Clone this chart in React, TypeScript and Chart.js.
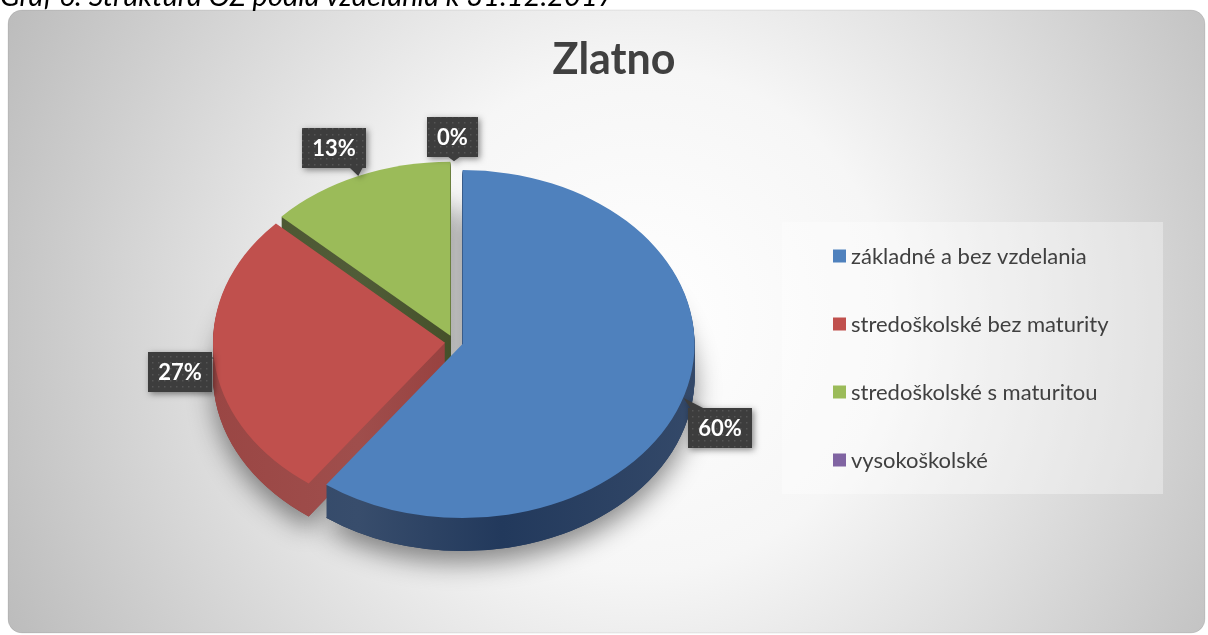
import { useEffect, useRef } from 'react';
import { Chart, registerables } from 'chart.js';

Chart.register(...registerables);

// ---- data ----
const captionText = 'Graf 6: Štruktúra OZ podľa vzdelania k 31.12.2017';
const chartTitle = 'Zlatno';
const categories = [
  'základné a bez vzdelania',
  'stredoškolské bez maturity',
  'stredoškolské s maturitou',
  'vysokoškolské',
];
const shares = [60, 27, 13, 0];

// ---- styles ----
const sliceColors = ['#4F81BD', '#C0504D', '#9BBB59', '#8064A2'];
const sideColors = ['#22395c', '#943a38', '#3e4a22', '#4b3a60'];
const FONT = 'Lato, "Open Sans", "DejaVu Sans", sans-serif';

const W = 1208;
const H = 635;

function shade(hex: string, f: number) {
  const n = parseInt(hex.slice(1), 16);
  const ch = [(n >> 16) & 255, (n >> 8) & 255, n & 255].map((c) =>
    Math.round(f >= 0 ? c + (255 - c) * f : c * (1 + f))
  );
  return `rgb(${ch[0]},${ch[1]},${ch[2]})`;
}

const backgroundPlugin = {
  id: 'bgPanel',
  beforeDraw(chart: any) {
    const ctx = chart.ctx as CanvasRenderingContext2D;
    ctx.save();
    const g = ctx.createRadialGradient(640, 320, 0, 640, 320, 720);
    g.addColorStop(0, '#ffffff');
    g.addColorStop(0.35, '#f6f6f6');
    g.addColorStop(1, '#bababa');
    ctx.beginPath();
    (ctx as any).roundRect(8, 10, 1197, 623, 14);
    ctx.fillStyle = g;
    ctx.fill();
    ctx.strokeStyle = 'rgba(0,0,0,0.08)';
    ctx.lineWidth = 1;
    ctx.stroke();
    ctx.restore();
  },
};

function arcGeom(chart: any) {
  const meta = chart.getDatasetMeta(0);
  return (meta.data as any[]).map((a) =>
    a.getProps(['x', 'y', 'startAngle', 'endAngle', 'outerRadius'], true)
  );
}

const pie3dPlugin = {
  id: 'pie3d',
  beforeDatasetsDraw(chart: any, _args: any, opts: any) {
    const ctx = chart.ctx as CanvasRenderingContext2D;
    const k = opts.tilt;
    const depth = opts.depth;
    const ex = opts.explode;
    const geom = arcGeom(chart);
    const meta = chart.getDatasetMeta(0);
    const path = (g: any, dy: number) => {
      const mid = (g.startAngle + g.endAngle) / 2;
      ctx.save();
      ctx.translate(g.x, g.y + dy);
      ctx.scale(1, k);
      ctx.translate(Math.cos(mid) * ex, Math.sin(mid) * ex);
      ctx.beginPath();
      ctx.moveTo(0, 0);
      ctx.arc(0, 0, g.outerRadius, g.startAngle, g.endAngle);
      ctx.closePath();
      ctx.restore();
    };
    const visible = (g: any) => g.endAngle - g.startAngle > 1e-6;
    const sideFill = (g: any, i: number) => {
      const base = opts.sideColors[i];
      const x0 = g.x - g.outerRadius - ex;
      const x1 = g.x + g.outerRadius + ex;
      const lg = ctx.createLinearGradient(x0, 0, x1, 0);
      lg.addColorStop(0, shade(base, 0.06));
      lg.addColorStop(0.3, shade(base, 0.1));
      lg.addColorStop(0.6, base);
      lg.addColorStop(1, shade(base, 0.08));
      return lg;
    };

    // soft shadow under the pie
    ctx.save();
    ctx.shadowColor = 'rgba(0,0,0,0.45)';
    ctx.shadowBlur = 26;
    ctx.shadowOffsetY = 12;
    geom.forEach((g: any, i: number) => {
      if (!visible(g)) return;
      path(g, depth);
      ctx.fillStyle = opts.sideColors[i];
      ctx.fill();
    });
    ctx.restore();

    // side walls
    const fills = geom.map((g: any, i: number) => sideFill(g, i));
    for (let d = depth; d >= 1; d--) {
      geom.forEach((g: any, i: number) => {
        if (!visible(g)) return;
        path(g, d);
        ctx.fillStyle = fills[i];
        ctx.fill();
      });
    }
    // top faces
    geom.forEach((g: any, i: number) => {
      if (!visible(g)) return;
      path(g, 0);
      ctx.fillStyle = meta.data[i].options.backgroundColor;
      ctx.fill();
    });
    return false;
  },
};

let dotPattern: CanvasPattern | null = null;
function getPattern(ctx: CanvasRenderingContext2D) {
  if (dotPattern) return dotPattern;
  const c = document.createElement('canvas');
  c.width = 6;
  c.height = 6;
  const p = c.getContext('2d')!;
  p.fillStyle = '#3d3d3d';
  p.fillRect(0, 0, 6, 6);
  p.fillStyle = '#555555';
  p.fillRect(2, 2, 1.5, 1.5);
  dotPattern = ctx.createPattern(c, 'repeat');
  return dotPattern;
}

const labelPlugin = {
  id: 'calloutLabels',
  afterDraw(chart: any, _args: any, opts: any) {
    const ctx = chart.ctx as CanvasRenderingContext2D;
    const geom = arcGeom(chart);
    const data = chart.data.datasets[0].data as number[];
    const total = data.reduce((s, v) => s + v, 0);
    const k = opts.tilt;
    const ex = opts.explode;
    ctx.save();
    ctx.font = `bold 22px ${FONT}`;
    geom.forEach((g: any, i: number) => {
      const mid = (g.startAngle + g.endAngle) / 2;
      const r = g.outerRadius + ex;
      const ax = g.x + Math.cos(mid) * r;
      const ay = g.y + Math.sin(mid) * r * k;
      const text = Math.round((data[i] / total) * 100) + '%';
      const tw = ctx.measureText(text).width;
      const bw = Math.round(tw + 20);
      const bh = 40;
      const [sx, sy] = opts.shifts[i];
      const bx = Math.round(ax + sx - bw / 2);
      const by = Math.round(ay + sy - bh / 2);
      // callout pointer base
      let p1: number[], p2: number[];
      if (ay < by) {
        const cxp = Math.min(Math.max(ax, bx + 10), bx + bw - 10);
        p1 = [cxp - 7, by + 1];
        p2 = [cxp + 7, by + 1];
      } else if (ay > by + bh) {
        const cxp = Math.min(Math.max(ax, bx + 10), bx + bw - 10);
        p1 = [cxp - 7, by + bh - 1];
        p2 = [cxp + 7, by + bh - 1];
      } else if (ax < bx) {
        const cyp = Math.min(Math.max(ay, by + 10), by + bh - 10);
        p1 = [bx + 1, cyp - 7];
        p2 = [bx + 1, cyp + 7];
      } else {
        p1 = [bx + bw - 18, by + 1];
        p2 = [bx + bw - 4, by + 1];
      }
      ctx.save();
      ctx.shadowColor = 'rgba(0,0,0,0.45)';
      ctx.shadowBlur = 6;
      ctx.shadowOffsetX = 2;
      ctx.shadowOffsetY = 2;
      ctx.beginPath();
      ctx.rect(bx, by, bw, bh);
      ctx.moveTo(p1[0], p1[1]);
      ctx.lineTo(ax, ay);
      ctx.lineTo(p2[0], p2[1]);
      ctx.closePath();
      ctx.fillStyle = '#3d3d3d';
      ctx.fill();
      ctx.restore();
      ctx.fillStyle = getPattern(ctx) || '#3d3d3d';
      ctx.fillRect(bx, by, bw, bh);
      ctx.fillStyle = '#ffffff';
      ctx.textAlign = 'center';
      ctx.textBaseline = 'middle';
      ctx.fillText(text, bx + bw / 2, by + bh / 2 + 1);
    });
    ctx.restore();
  },
};

const legendPlugin = {
  id: 'sideLegend',
  afterDraw(chart: any, _args: any, opts: any) {
    const ctx = chart.ctx as CanvasRenderingContext2D;
    const labels = chart.data.labels as string[];
    const colors = chart.data.datasets[0].backgroundColor as string[];
    ctx.save();
    ctx.fillStyle = 'rgba(255,255,255,0.35)';
    ctx.fillRect(opts.x, opts.y, opts.w, opts.h);
    ctx.font = `22px ${FONT}`;
    ctx.textBaseline = 'middle';
    ctx.textAlign = 'left';
    labels.forEach((lab, i) => {
      const cy = opts.firstY + i * opts.gap;
      ctx.fillStyle = colors[i];
      ctx.fillRect(opts.boxX, cy - 6.5, 13, 13);
      ctx.fillStyle = '#404040';
      ctx.fillText(lab, opts.textX, cy + 1);
    });
    ctx.restore();
  },
};

const titlePlugin = {
  id: 'panelTitle',
  afterDraw(chart: any, _args: any, opts: any) {
    const ctx = chart.ctx as CanvasRenderingContext2D;
    ctx.save();
    ctx.font = `bold 43px ${FONT}`;
    ctx.fillStyle = '#404040';
    ctx.textAlign = 'center';
    ctx.textBaseline = 'alphabetic';
    ctx.fillText(opts.text, opts.x, opts.y);
    ctx.restore();
  },
};

export default function App() {
  const ref = useRef<HTMLCanvasElement | null>(null);
  useEffect(() => {
    if (!ref.current) return;
    const tilt = 0.75;
    const explode = 9;
    const chart = new Chart(ref.current, {
      type: 'pie',
      data: {
        labels: categories,
        datasets: [
          {
            data: shares,
            backgroundColor: sliceColors,
            borderWidth: 0,
          },
        ],
      },
      options: {
        responsive: false,
        animation: false,
        devicePixelRatio: 1,
        events: [],
        radius: 232,
        layout: { padding: { left: 0, right: W - 2 * 454, top: 49, bottom: 0 } },
        plugins: {
          legend: { display: false },
          tooltip: { enabled: false },
          title: { display: false },
          pie3d: { tilt, depth: 33, explode, sideColors },
          calloutLabels: {
            tilt,
            explode,
            shifts: [
              [37, 30],
              [-34, 13],
              [-24, -28],
              [-1, -24],
            ],
          },
          sideLegend: { x: 782, y: 222, w: 381, h: 272, firstY: 256, gap: 68, boxX: 833, textX: 851 },
          panelTitle: { text: chartTitle, x: 614, y: 74 },
        },
      } as any,
      plugins: [backgroundPlugin, pie3dPlugin, labelPlugin, legendPlugin, titlePlugin],
    });
    return () => chart.destroy();
  }, []);

  return (
    <div
      style={{
        position: 'fixed',
        left: 0,
        top: 0,
        width: W,
        height: H,
        overflow: 'hidden',
        background: '#ffffff',
      }}
    >
      <canvas ref={ref} width={W} height={H} style={{ position: 'absolute', left: 0, top: 0, width: W, height: H }} />
      <div
        style={{
          position: 'absolute',
          left: 0,
          top: -20,
          fontFamily: FONT,
          fontStyle: 'italic',
          fontSize: 29,
          lineHeight: '29px',
          color: '#000',
          whiteSpace: 'nowrap',
        }}
      >
        {captionText}
      </div>
    </div>
  );
}
